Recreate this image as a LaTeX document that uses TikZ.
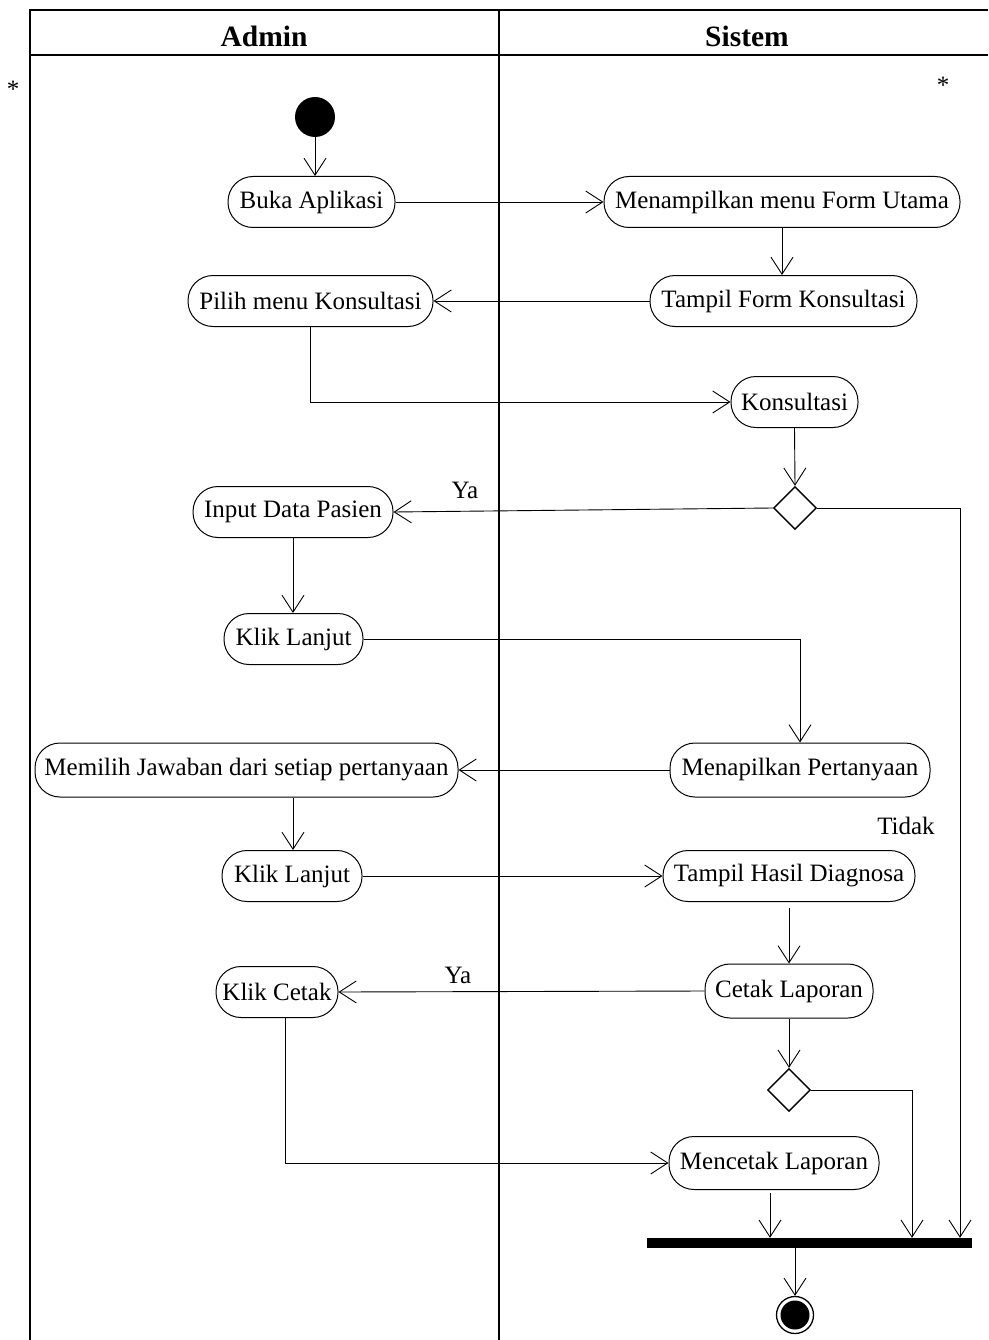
\documentclass[tikz,border=0pt]{standalone}
\usepackage{fontspec}
\setmainfont{Liberation Serif}
\usetikzlibrary{arrows.meta,shapes.geometric}
\begin{document}
\begin{tikzpicture}[x=1pt,y=-1pt,
  txt/.style={font=\fontsize{25}{30}\selectfont},
  pill/.style={draw, line width=1pt, rounded corners=25pt, minimum height=51pt,
    inner sep=0pt, txt},
  flow/.style={line width=0.9pt, -{Straight Barb[length=17pt,width=22pt,line width=0.9pt]}},
  lane/.style={line width=2pt},
  decision/.style={draw, diamond, line width=1.4pt, minimum width=43pt,
    minimum height=43pt, inner sep=0pt},
  lbl/.style={txt, inner sep=0pt}]

\useasboundingbox (0,0) rectangle (988,1340);

% swimlane frame
\draw[lane] (30,1340) -- (30,10) -- (988,10);
\draw[lane] (30,55) -- (988,55);
\draw[lane] (499,10) -- (499,1340);
\node[font=\bfseries\fontsize{29.5}{33}\selectfont] (hadmin) at (264,36) {Admin};
\node[font=\bfseries\fontsize{29.5}{33}\selectfont] (hsistem) at (747,36) {Sistem};
\node[lbl] (astl) at (13,89) {*};
\node[lbl] (astr) at (943,85) {*};

% start / end
\node[circle, fill, minimum size=40pt, inner sep=0pt] (start) at (315,117) {};
\node[circle, draw, line width=1.3pt, minimum size=37pt, inner sep=0pt] (end) at (795,1315) {};
\node[circle, fill, minimum size=29pt, inner sep=0pt] (endcore) at (795,1315) {};

% actions
\node[pill, minimum width=167pt] (buka) at (311.5,202) {Buka Aplikasi};
\node[pill, minimum width=356pt] (menu) at (782,202) {Menampilkan menu Form Utama};
\node[pill, minimum width=267pt] (tform) at (783.5,301) {Tampil Form Konsultasi};
\node[pill, minimum width=245pt] (pilih) at (310.5,301) {Pilih menu Konsultasi};
\node[pill, minimum width=127pt] (kons) at (794.5,402) {Konsultasi};
\node[decision] (d1) at (795,508) {};
\node[pill, minimum width=200pt] (input) at (293,512) {Input Data Pasien};
\node[pill, minimum width=139pt] (lanjut1) at (293.5,639) {Klik Lanjut};
\node[pill, minimum width=260pt, minimum height=54pt] (tanya) at (800,770) {Menapilkan Pertanyaan};
\node[pill, minimum width=423pt, minimum height=54pt] (jawab) at (246.5,770) {Memilih Jawaban dari setiap pertanyaan};
\node[pill, minimum width=140pt] (lanjut2) at (292,876) {Klik Lanjut};
\node[pill, minimum width=252pt] (hasil) at (789,876) {Tampil Hasil Diagnosa};
\node[pill, minimum width=168pt, minimum height=54pt] (cetak) at (789,991) {Cetak Laporan};
\node[pill, minimum width=122pt] (klikcetak) at (277,992) {Klik Cetak};
\node[decision] (d2) at (789,1090) {};
\node[pill, minimum width=210pt, minimum height=53pt] (mencetak) at (774,1163) {Mencetak Laporan};
\node[fill, minimum width=325pt, minimum height=10pt, inner sep=0pt] (bar) at (809.5,1243) {};

% guard labels
\node[lbl] (ya1) at (465,490) {Ya};
\node[lbl] (tidak) at (906,826) {Tidak};
\node[lbl] (ya2) at (458,975) {Ya};

% flows
\draw[flow] (start) -- (start |- buka.north);
\draw[flow] (buka.east) -- (menu.west);
\draw[flow] (menu.south) -- (menu.south |- tform.north);
\draw[flow] (tform.west) -- (pilih.east);
\draw[flow] (pilih.south) |- (kons.west);
\draw[flow] (kons.south) -- (d1.north);
\draw[flow] (d1.west) -- (input.east);
\draw[flow] (d1.east) -| (bar.north -| 960,0);
\draw[flow] (input.south) -- (input.south |- lanjut1.north);
\draw[flow] (lanjut1.east) -| (tanya.north);
\draw[flow] (tanya.west) -- (jawab.east);
\draw[flow] (jawab.south -| 293,0) -- (lanjut2.north -| 293,0);
\draw[flow] (lanjut2.east) -- (hasil.west);
\draw[flow] (hasil.south) ++(0,6) -- (cetak.north);
\draw[flow] (cetak.west) -- (klikcetak.east);
\draw[flow] (cetak.south) -- (d2.north);
\draw[flow] (d2.east) -| (bar.north -| 912,0);
\draw[flow] (klikcetak.south -| 285,0) |- (mencetak.west);
\draw[flow] (mencetak.south -| 770,0) ++(0,3) -- (bar.north -| 770,0);
\draw[flow] (bar.south -| 795,0) -- (end.north);
\end{tikzpicture}
\end{document}
